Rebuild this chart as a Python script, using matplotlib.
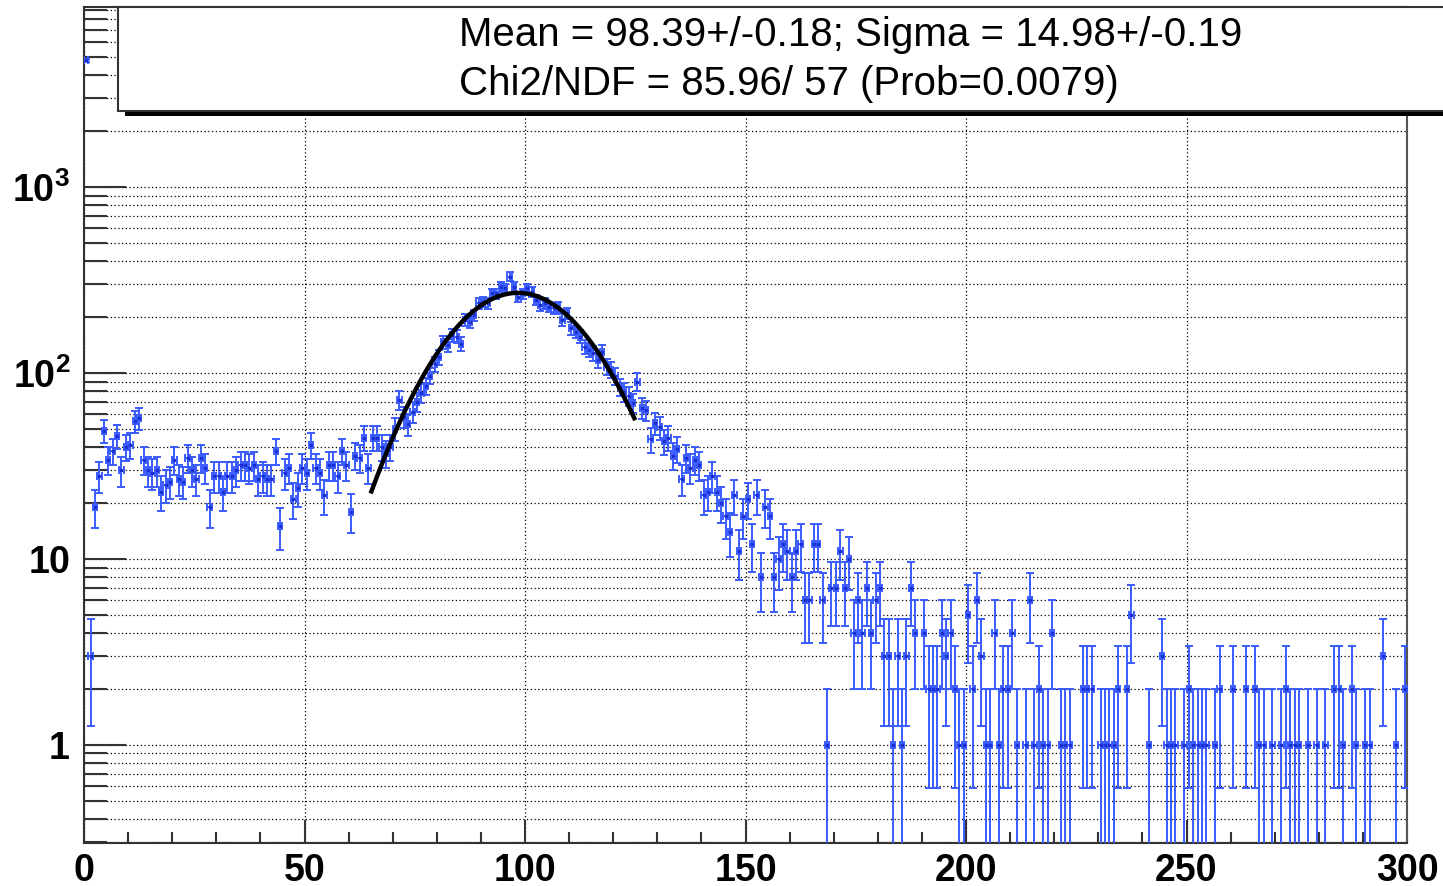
import numpy as np
import matplotlib.pyplot as plt
from matplotlib.patches import Rectangle
from matplotlib.ticker import FixedLocator, NullFormatter, FixedFormatter

plt.rcParams["mathtext.fontset"] = "custom"
plt.rcParams["mathtext.bf"] = "Liberation Sans:bold"
plt.rcParams["mathtext.rm"] = "Liberation Sans:bold"

# histogram: 300 bins of width 1 from 0 to 300
bin_edges_lo = np.arange(0, 300)
counts = [
    4800, 3, 19, 28, 49, 34, 38, 46, 30, 40,
    41, 55, 57, 34, 30, 29, 30, 23, 25, 26,
    34, 27, 26, 35, 30, 27, 35, 31, 19, 28,
    28, 23, 28, 28, 30, 32, 32, 31, 32, 27,
    28, 27, 27, 38, 15, 29, 31, 21, 24, 31,
    29, 41, 31, 29, 22, 32, 32, 28, 38, 32,
    18, 36, 35, 45, 31, 45, 45, 40, 37, 40,
    50, 72, 58, 53, 62, 70, 78, 85, 97, 112,
    122, 147, 141, 160, 157, 144, 193, 189, 205, 237,
    242, 237, 268, 268, 291, 285, 330, 291, 257, 268,
    285, 273, 247, 232, 237, 227, 223, 227, 193, 210,
    174, 167, 157, 138, 133, 128, 117, 130, 108, 104,
    96, 84, 79, 75, 69, 90, 65, 63, 44, 54,
    51, 43, 45, 36, 39, 27, 35, 31, 34, 32,
    22, 23, 28, 23, 20, 17, 14, 22, 11, 17,
    21, 12, 22, 8, 19, 17, 8, 10, 12, 11,
    8, 11, 12, 6, 6, 12, 12, 6, 1, 7,
    7, 11, 7, 10, 4, 6, 4, 7, 4, 6,
    7, 3, 3, 1, 3, 1, 3, 7, 4, 0,
    4, 2, 2, 2, 4, 3, 4, 2, 1, 1,
    5, 2, 6, 3, 1, 1, 4, 1, 2, 2,
    4, 1, 0, 1, 6, 1, 2, 1, 1, 4,
    0, 1, 1, 1, 0, 0, 2, 2, 2, 0,
    1, 1, 1, 1, 2, 0, 2, 5, 0, 0,
    0, 1, 0, 0, 3, 1, 1, 1, 0, 1,
    2, 1, 1, 1, 1, 0, 1, 2, 0, 0,
    2, 0, 0, 2, 0, 2, 1, 1, 0, 1,
    0, 1, 2, 1, 1, 1, 0, 1, 0, 1,
    0, 1, 0, 2, 2, 1, 0, 2, 1, 0,
    1, 1, 0, 0, 3, 0, 0, 1, 0, 2,
]

# gaussian fit result
fit_amp = 270.0
fit_mean = 98.39
fit_sigma = 14.98
fit_range = (65, 125)

stat_lines = [
    "Mean = 98.39+/-0.18; Sigma = 14.98+/-0.19",
    "Chi2/NDF = 85.96/ 57 (Prob=0.0079)",
]

x_ticks = [0, 50, 100, 150, 200, 250, 300]
x_minor = [v for v in range(0, 301, 10) if v % 50]
y_major = [1, 10, 100, 1000]
y_labels = [r"$\mathbf{1}$", r"$\mathbf{10}$", r"$\mathbf{10^{2}}$", r"$\mathbf{10^{3}}$"]

W, H = 1443, 886
fig = plt.figure(figsize=(W / 100, H / 100), dpi=100)
ax = fig.add_axes([84 / W, 1 - 843 / H, (1407 - 84) / W, (843 - 7) / H])

counts = np.array(counts, dtype=float)
centers = bin_edges_lo + 0.5
keep = counts > 0
xc = centers[keep]
yc = counts[keep]
err = np.sqrt(yc)
lo = yc - np.maximum(yc - err, 1e-3)
hi = err

ax.errorbar(xc, yc, xerr=0.5, yerr=[lo, hi], fmt="s", ms=1.6,
            mfc="#1c2fd0", mec="#1c2fd0", ecolor="#3a5cff", elinewidth=1.4,
            capsize=2.6, capthick=1.4, zorder=3)

xs = np.linspace(fit_range[0], fit_range[1], 400)
ax.plot(xs, fit_amp * np.exp(-0.5 * ((xs - fit_mean) / fit_sigma) ** 2),
        color="black", lw=3.2, zorder=4, solid_capstyle="butt")

ax.set_yscale("log")
ax.set_xlim(0, 300)
ax.set_ylim(0.297, 9300)

ax.xaxis.set_major_locator(FixedLocator(x_ticks))
ax.xaxis.set_minor_locator(FixedLocator(x_minor))
ax.set_xticklabels([str(v) for v in x_ticks])
ax.yaxis.set_major_locator(FixedLocator(y_major))
ax.yaxis.set_major_formatter(FixedFormatter(y_labels))
y_minor = [m * d for d in (0.1, 1, 10, 100, 1000) for m in range(2, 10)]
ax.yaxis.set_minor_locator(FixedLocator(y_minor))
ax.yaxis.set_minor_formatter(NullFormatter())

ax.tick_params(axis="x", which="major", direction="in", length=16.5, width=1.5,
               color="#333333", pad=7, labelsize=27)
ax.tick_params(axis="x", which="minor", direction="in", length=8, width=1.5, color="#333333")
ax.tick_params(axis="y", which="major", direction="in", length=30, width=1.5,
               color="#333333", pad=10, labelsize=27)
ax.tick_params(axis="y", which="minor", direction="in", length=16.5, width=1.5, color="#333333")
for lab in ax.get_xticklabels():
    lab.set_fontfamily("Liberation Sans")
    lab.set_fontweight("bold")

ax.grid(axis="y", which="both", color="black", lw=0.9, linestyle=(0, (1, 2)))
ax.grid(axis="x", which="major", color="black", lw=0.9, linestyle=(0, (1, 2)))
ax.set_axisbelow(True)
for side in ("left", "bottom", "top"):
    ax.spines[side].set_color("#333333")
    ax.spines[side].set_linewidth(1.5)
ax.spines["right"].set_color("#555555")
ax.spines["right"].set_linewidth(1.5)

# stats box with shadow
fig.add_artist(Rectangle((125 / W, 1 - 116 / H), 1.0, (116 - 12) / H,
                         transform=fig.transFigure, facecolor="black",
                         edgecolor="none", zorder=5))
fig.add_artist(Rectangle((118 / W, 1 - 111 / H), 1.0, (111 - 7) / H,
                         transform=fig.transFigure, facecolor="white",
                         edgecolor="#333333", lw=1.5, zorder=6))
fig.text(459 / W, 1 - 46 / H, stat_lines[0], ha="left", va="baseline",
         fontsize=29, family="Liberation Sans", zorder=7)
fig.text(459 / W, 1 - 95 / H, stat_lines[1], ha="left", va="baseline",
         fontsize=29, family="Liberation Sans", zorder=7)

fig.savefig("out.png", dpi=100)
